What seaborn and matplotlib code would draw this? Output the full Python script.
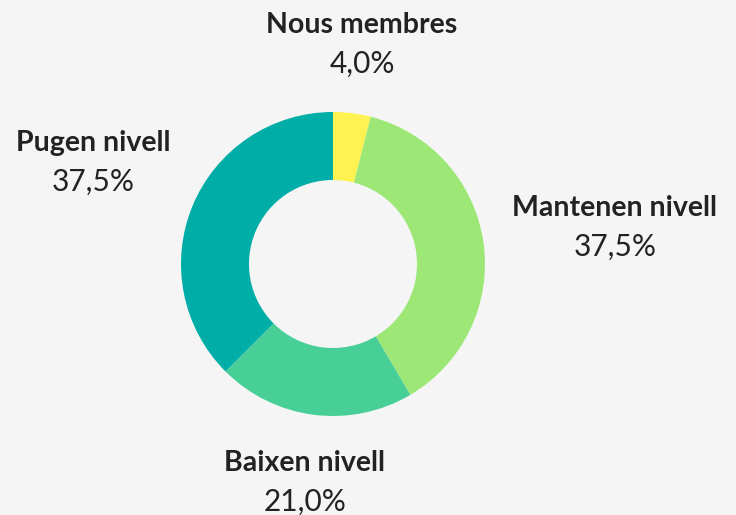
import matplotlib
matplotlib.use('Agg')
import matplotlib.pyplot as plt
import seaborn as sns

categories = ['Nous membres', 'Mantenen nivell', 'Baixen nivell', 'Pugen nivell']
values = [4.0, 37.5, 21.0, 37.5]
colors = ['#fdf250', '#9de776', '#48cf98', '#00ada7']

sns.set_theme(style='white')
plt.rcParams['font.family'] = ['Lato', 'DejaVu Sans']

bg = '#f5f5f5'
fig = plt.figure(figsize=(7.36, 5.15), dpi=100, facecolor=bg)
ax = fig.add_axes([0, 0, 1, 1])
ax.set_facecolor(bg)

H = 515
cx, cy, r = 333, H - 264, 152
ax.pie(values, colors=colors, startangle=90, counterclock=False,
       center=(cx, cy), radius=r, frame=True,
       wedgeprops=dict(width=r - 84, linewidth=0))
ax.set_xlim(0, 736)
ax.set_ylim(0, 515)
ax.set_aspect('equal')
ax.axis('off')

# label anchor positions (pixel coords of the title line)
label_pos = [(362, 25), (615, 208), (305, 463), (93, 143)]
for name, val, (x, y) in zip(categories, values, label_pos):
    ax.text(x, H - y, name, ha='center', va='center', fontsize=20.5,
            fontweight='bold', color='#222222')
    ax.text(x, H - y - 39, f'{val:.1f}%'.replace('.', ','), ha='center',
            va='center', fontsize=21.5, color='#222222')

fig.savefig('out.png', dpi=100, facecolor=bg)
